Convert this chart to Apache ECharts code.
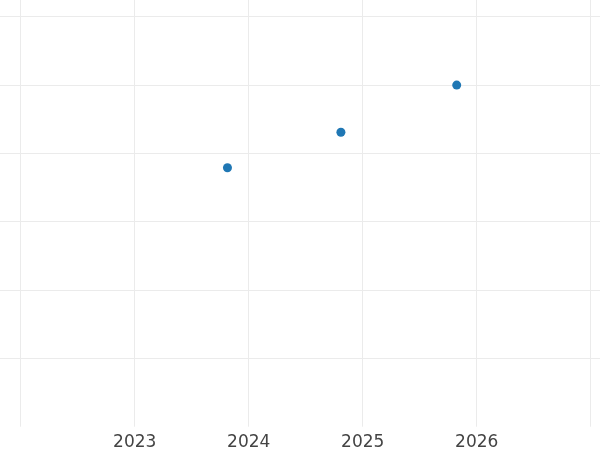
<!DOCTYPE html>
<html>
<head>
<meta charset="utf-8">
<script src="https://cdn.jsdelivr.net/npm/echarts@6/dist/echarts.min.js"></script>
<style>html,body{margin:0;padding:0;background:#fff}#c{width:600px;height:450px}</style>
</head>
<body>
<div id="c"></div>
<script>
var dates = ['2023-10-25', '2024-10-23', '2025-10-29'];
var values = [3.79, 4.31, 5.0];
var tickLabels = ['2023', '2024', '2025', '2026'];

function toYear(s) {
  var p = s.split('-').map(Number);
  var start = Date.UTC(p[0], 0, 1), end = Date.UTC(p[0] + 1, 0, 1);
  return p[0] + (Date.UTC(p[0], p[1] - 1, p[2]) - start) / (end - start);
}
var points = dates.map(function (d, i) { return [toYear(d), values[i]]; });

var chart = echarts.init(document.getElementById('c'), null, {renderer: 'canvas'});
chart.setOption({
  animation: false,
  backgroundColor: '#ffffff',
  grid: {left: -93.3, right: -104.7, top: -51.6, bottom: 23.3, containLabel: false, outerBoundsMode: 'none'},
  xAxis: {
    type: 'value', min: 2021, max: 2028, interval: 1,
    axisLine: {show: false}, axisTick: {show: false},
    axisLabel: {
      color: '#444444', fontSize: 17, fontFamily: 'DejaVu Sans', margin: 7,
      formatter: function (v) { var s = String(Math.round(v)); return tickLabels.indexOf(s) >= 0 ? s : ''; }
    },
    splitLine: {show: true, lineStyle: {color: '#ebebeb', width: 1}}
  },
  yAxis: {
    type: 'value', min: 0, max: 7, interval: 1,
    axisLine: {show: false}, axisTick: {show: false}, axisLabel: {show: false},
    splitLine: {show: true, showMinLine: false, lineStyle: {color: '#ebebeb', width: 1}}
  },
  series: [{
    type: 'scatter', data: points, symbol: 'circle', symbolSize: 9,
    itemStyle: {color: '#1f77b4', opacity: 1}
  }]
});
</script>
</body>
</html>
